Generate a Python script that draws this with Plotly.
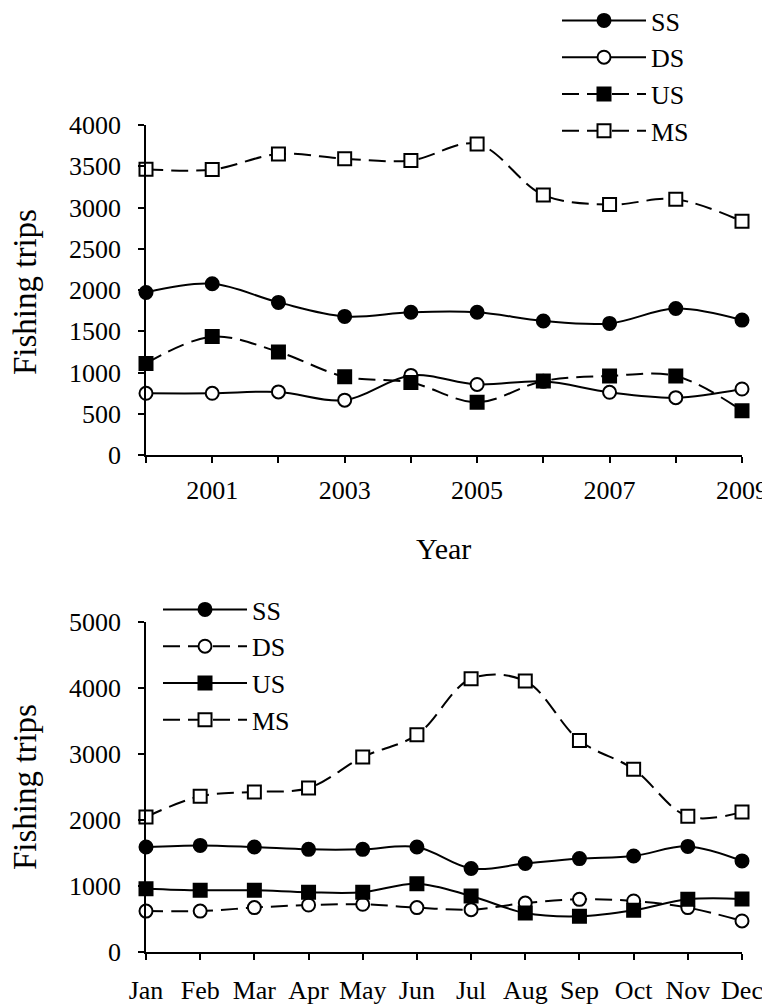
import plotly.graph_objects as go

# annual data (top panel)
years = [2000, 2001, 2002, 2003, 2004, 2005, 2006, 2007, 2008, 2009]
ss_year = [1970, 2075, 1850, 1680, 1730, 1730, 1625, 1595, 1775, 1635]
ds_year = [748, 748, 765, 665, 965, 855, 893, 760, 695, 800]
us_year = [1110, 1435, 1250, 950, 878, 640, 897, 958, 958, 537]
ms_year = [3465, 3460, 3648, 3592, 3570, 3770, 3152, 3035, 3100, 2832]

# monthly data (bottom panel)
months = ["Jan", "Feb", "Mar", "Apr", "May", "Jun", "Jul", "Aug", "Sep", "Oct", "Nov", "Dec"]
ss_month = [1590, 1615, 1590, 1555, 1555, 1590, 1265, 1340, 1415, 1455, 1600, 1380]
ds_month = [620, 620, 673, 712, 723, 673, 642, 742, 798, 773, 673, 470]
us_month = [960, 935, 935, 905, 905, 1035, 848, 590, 540, 632, 798, 803]
ms_month = [2045, 2360, 2425, 2485, 2955, 3290, 4140, 4105, 3205, 2770, 2055, 2120]

FONT = "Liberation Serif, Times New Roman, serif"
DASH = "17px,8px"
# page is 770x1006 but the html body keeps an 8px margin at top/left
OFF = 8
W, H = 770 - OFF, 1006 - OFF


def px(x):
    return (x - OFF) / W


def py(y):
    return 1 - (y - OFF) / H


def series(x, y, name, symbol, fill, dash, xa, ya, legend):
    return go.Scatter(
        x=x, y=y, name=name, mode="lines+markers",
        line=dict(color="black", width=2, dash=dash, shape="spline", smoothing=1),
        marker=dict(symbol=symbol, size=13, color=fill, line=dict(color="black", width=2)),
        xaxis=xa, yaxis=ya, legend=legend, cliponaxis=False,
    )


fig = go.Figure()
fig.add_trace(series(years, ss_year, "SS", "circle", "black", "solid", "x", "y", "legend"))
fig.add_trace(series(years, ds_year, "DS", "circle", "white", "solid", "x", "y", "legend"))
fig.add_trace(series(years, us_year, "US", "square", "black", DASH, "x", "y", "legend"))
fig.add_trace(series(years, ms_year, "MS", "square", "white", DASH, "x", "y", "legend"))

fig.add_trace(series(months, ss_month, "SS", "circle", "black", "solid", "x2", "y2", "legend2"))
fig.add_trace(series(months, ds_month, "DS", "circle", "white", DASH, "x2", "y2", "legend2"))
fig.add_trace(series(months, us_month, "US", "square", "black", "solid", "x2", "y2", "legend2"))
fig.add_trace(series(months, ms_month, "MS", "square", "white", DASH, "x2", "y2", "legend2"))

axis_common = dict(showline=True, linecolor="black", linewidth=1.5, ticks="outside",
                   tickcolor="black", ticklen=6, tickwidth=1.5, showgrid=False,
                   zeroline=False, automargin=False,
                   tickfont=dict(family=FONT, size=26, color="black"))

year_text = [str(y) if y % 2 == 1 else "" for y in years]

fig.update_layout(
    template="none",
    width=W, height=H,
    margin=dict(l=0, r=0, t=0, b=0, autoexpand=False),
    paper_bgcolor="white", plot_bgcolor="white",
    font=dict(family=FONT, color="black"),
    showlegend=True,
    xaxis=dict(domain=[px(146), px(742)], range=[2000, 2009], tickvals=years, ticktext=year_text,
               anchor="y", ticklabelstandoff=5, **axis_common),
    yaxis=dict(domain=[py(455), py(125)], range=[0, 4000], dtick=500, anchor="x",
               ticklabelstandoff=12, **axis_common),
    xaxis2=dict(domain=[px(146), px(742)], range=[0, 11], anchor="y2", ticklabelstandoff=8,
                **axis_common),
    yaxis2=dict(domain=[py(952), py(622)], range=[0, 5000], dtick=1000, anchor="x2",
                ticklabelstandoff=12, **axis_common),
    legend=dict(x=px(557), y=py(-3), xanchor="left", yanchor="top",
                font=dict(family=FONT, size=26), itemwidth=84, bgcolor="rgba(0,0,0,0)"),
    legend2=dict(x=px(158), y=py(586), xanchor="left", yanchor="top",
                 font=dict(family=FONT, size=26), itemwidth=84, bgcolor="rgba(0,0,0,0)"),
    annotations=[
        dict(text="Fishing trips", x=px(25), y=py(292), xref="paper", yref="paper",
             xanchor="center", yanchor="middle",
             textangle=-90, showarrow=False, font=dict(family=FONT, size=33)),
        dict(text="Fishing trips", x=px(25), y=py(787), xref="paper", yref="paper",
             xanchor="center", yanchor="middle",
             textangle=-90, showarrow=False, font=dict(family=FONT, size=33)),
        dict(text="Year", x=px(443), y=py(548), xref="paper", yref="paper",
             xanchor="center", yanchor="middle",
             showarrow=False, font=dict(family=FONT, size=30)),
    ],
)

fig.write_html("out.html")
